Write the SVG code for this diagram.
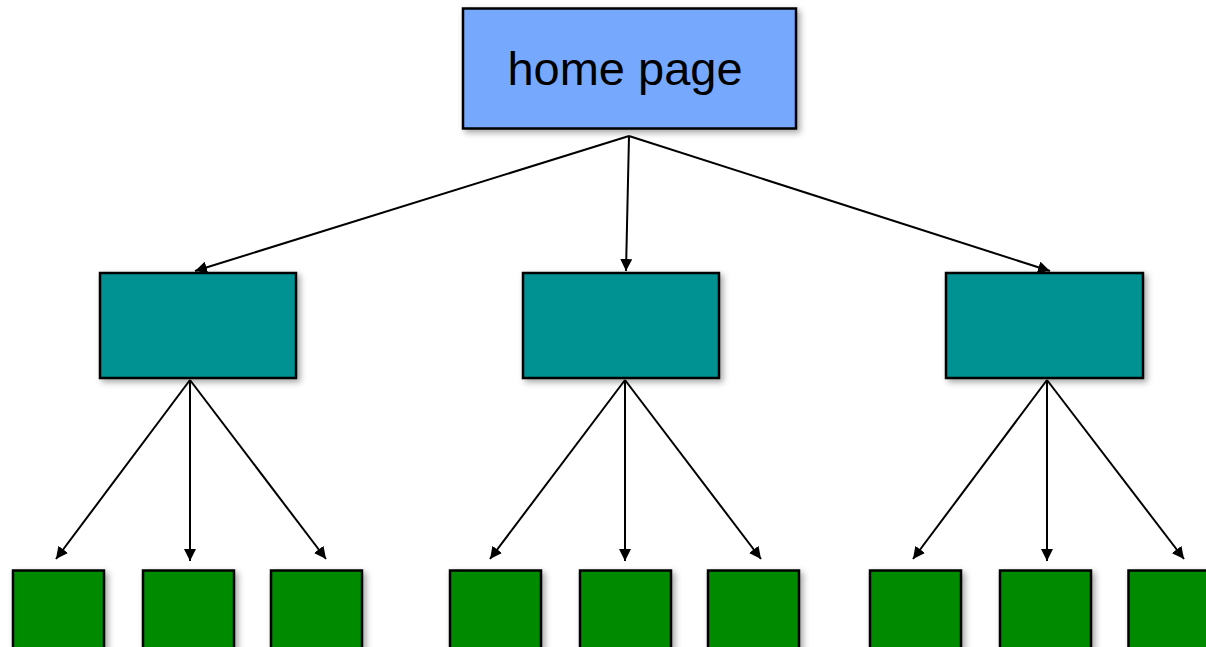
<svg xmlns="http://www.w3.org/2000/svg" width="1206" height="647" viewBox="0 0 1206 647">
<style>
.box{stroke:#000;stroke-width:2.5;filter:url(#sh)}
.home{fill:#76A9FD}
.mid{fill:#009193}
.leaf{fill:#008A00}
.conn{stroke:#000;stroke-width:2;fill:none;marker-end:url(#ah)}
.lbl{font-family:"Liberation Sans",Arial,sans-serif;font-size:47px;fill:#000;text-anchor:middle}
</style>
<defs>
<filter id="sh" x="-20%" y="-20%" width="150%" height="150%">
<feDropShadow dx="3" dy="3" stdDeviation="3" flood-color="#000" flood-opacity="0.35"/>
</filter>
<marker id="ah" viewBox="0 0 10 10" refX="10" refY="5" markerWidth="6" markerHeight="6" orient="auto" markerUnits="strokeWidth">
<path d="M0,0 L10,5 L0,10 z" fill="#000"/>
</marker>
</defs>
<g id="connectors">
<line class="conn" x1="629" y1="136" x2="195" y2="271"/>
<line class="conn" x1="629" y1="136" x2="626" y2="271"/>
<line class="conn" x1="629" y1="136" x2="1050" y2="271"/>
<line class="conn" x1="190" y1="380" x2="56" y2="559"/>
<line class="conn" x1="190" y1="380" x2="190" y2="561"/>
<line class="conn" x1="190" y1="380" x2="326" y2="559"/>
<line class="conn" x1="625" y1="380" x2="490" y2="559"/>
<line class="conn" x1="625" y1="380" x2="625" y2="561"/>
<line class="conn" x1="625" y1="380" x2="761" y2="559"/>
<line class="conn" x1="1047" y1="380" x2="913" y2="559"/>
<line class="conn" x1="1047" y1="380" x2="1047" y2="561"/>
<line class="conn" x1="1047" y1="380" x2="1184" y2="559"/>
</g>
<g id="home">
<rect class="box home" x="463" y="8.5" width="333" height="120"/>
<text class="lbl" x="625" y="85">home page</text>
</g>
<g id="section1"><rect class="box mid" x="100" y="273" width="196" height="105"/></g>
<g id="section2"><rect class="box mid" x="523" y="273" width="196" height="105"/></g>
<g id="section3"><rect class="box mid" x="946" y="273" width="197" height="105"/></g>
<g id="page1"><rect class="box leaf" x="13" y="570.5" width="91" height="90"/></g>
<g id="page2"><rect class="box leaf" x="143" y="570.5" width="91" height="90"/></g>
<g id="page3"><rect class="box leaf" x="271" y="570.5" width="91" height="90"/></g>
<g id="page4"><rect class="box leaf" x="450" y="570.5" width="91" height="90"/></g>
<g id="page5"><rect class="box leaf" x="580" y="570.5" width="91" height="90"/></g>
<g id="page6"><rect class="box leaf" x="708" y="570.5" width="91" height="90"/></g>
<g id="page7"><rect class="box leaf" x="870" y="570.5" width="91" height="90"/></g>
<g id="page8"><rect class="box leaf" x="1000" y="570.5" width="91" height="90"/></g>
<g id="page9"><rect class="box leaf" x="1128.5" y="570.5" width="91" height="90"/></g>
</svg>
